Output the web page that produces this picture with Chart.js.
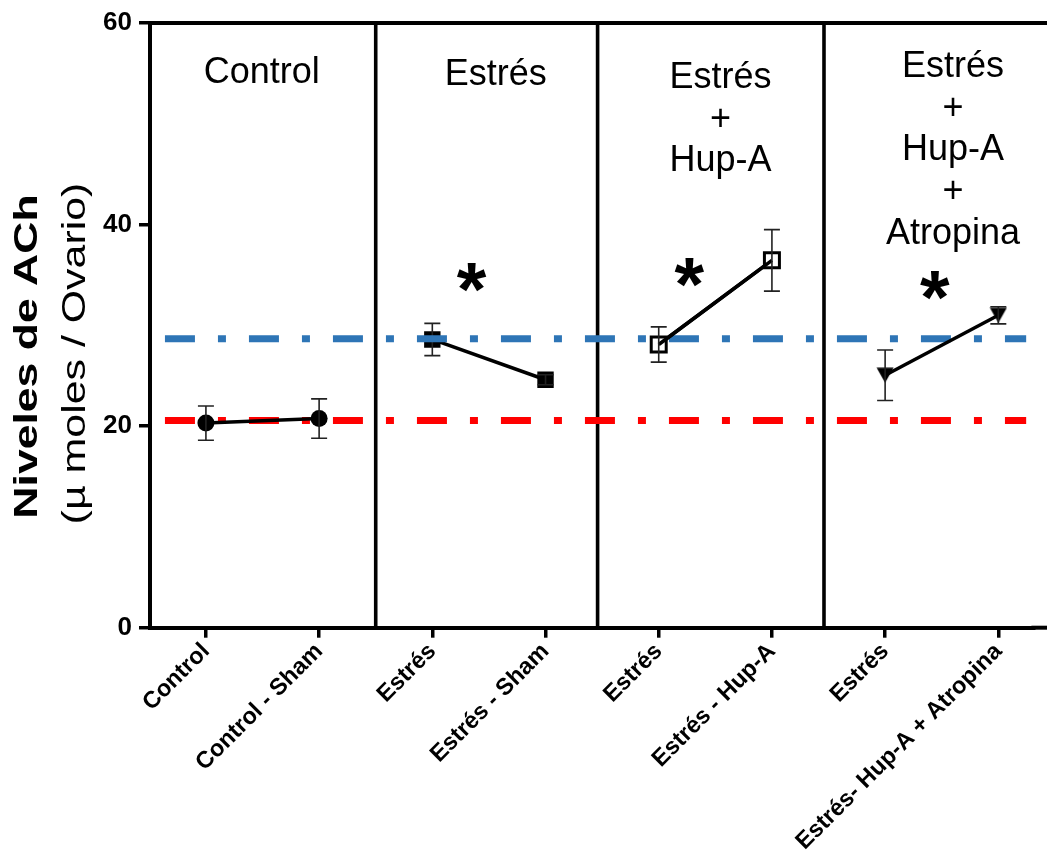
<!DOCTYPE html>
<html>
<head>
<meta charset="utf-8">
<script src="https://cdn.jsdelivr.net/npm/chart.js@4.4.1/dist/chart.umd.min.js"></script>
<style>
  html, body { margin: 0; padding: 0; background: #ffffff; }
  #wrap { width: 1047px; height: 852px; position: relative; }
  canvas { display: block; }
</style>
</head>
<body>
<div id="wrap"><canvas id="c" width="1047" height="852"></canvas></div>
<script>
// ---------------- DATA ----------------
const categories = ["Control", "Control - Sham", "Estrés", "Estrés - Sham",
                    "Estrés", "Estrés - Hup-A", "Estrés", "Estrés- Hup-A + Atropina"];
const means = [20.3, 20.75, 28.6, 24.6, 28.1, 36.45, 25.05, 31.0];
const sems  = [1.7, 1.95, 1.6, 0.5, 1.75, 3.05, 2.5, 0.85];
const pairs = [[0, 1], [2, 3], [4, 5], [6, 7]];
const panelTitles = [["Control"], ["Estrés"], ["Estrés", "+", "Hup-A"],
                     ["Estrés", "+", "Hup-A", "+", "Atropina"]];
const significance = ["", "*", "*", "*"];
const referenceLevels = [28.67, 20.56];   // Estrés level (blue), Control level (red)
const yTickValues = [0, 20, 40, 60];
const yTitle = "Niveles de ACh";
const ySubtitle = "(µ moles / Ovario)";

// ---------------- STYLE / LAYOUT ----------------
const FONT = "'Liberation Sans', Arial, Helvetica, sans-serif";
Chart.defaults.font.family = FONT;
Chart.defaults.color = '#000';

const layoutCfg = {
  xMin: -0.494,
  pxPerUnit: 113.2,
  dividers: [1.5, 3.46, 5.46],
  refSpan: [-0.362, 7.246],
  titleX: [0.494, 2.56, 4.545, 6.60],
  titleFirstBaseline: [54.08, 53.88, 53.58, 54.66],
  titleLineGapPx: 41.8,
  starPos: [null, [2.348, 34.72], [4.272, 35.21], [6.44, 34.0]]
};

function triangleDown(w, h) {
  const cv = document.createElement('canvas');
  cv.width = w; cv.height = h;
  const c = cv.getContext('2d');
  c.fillStyle = '#000';
  c.beginPath();
  c.moveTo(0.5, 0.5); c.lineTo(w - 0.5, 0.5); c.lineTo(w / 2, h - 0.5);
  c.closePath(); c.fill();
  return cv;
}

const markerStyles = [
  { pointStyle: 'circle', radius: 8.5, bg: '#000', bw: 0 },
  { pointStyle: 'rect', radius: 11.6, bg: '#000', bw: 0 },
  { pointStyle: 'rect', radius: 10.6, bg: '#fff', bw: 3 },
  { pointStyle: triangleDown(18, 16), radius: 9, bg: '#000', bw: 0 }
];
const panelOrder = [0, 20, 0, 0];

const datasets = [];
referenceLevels.forEach((lvl, k) => {
  datasets.push({
    type: 'line',
    data: layoutCfg.refSpan.map(x => ({ x: x, y: lvl })),
    borderColor: k === 0 ? '#2E75B6' : '#FF0000',
    borderWidth: 7,
    borderDash: [30, 23, 8, 23],
    borderCapStyle: 'butt',
    pointRadius: 0,
    order: 10
  });
});
pairs.forEach((p, g) => {
  const m = markerStyles[g];
  datasets.push({
    type: 'line',
    data: p.map(i => ({ x: i, y: means[i] })),
    errIdx: p,
    redrawLine: m.bg === '#fff',
    borderColor: '#000',
    borderWidth: 3.5,
    pointStyle: m.pointStyle,
    pointRadius: m.radius,
    pointBackgroundColor: m.bg,
    pointBorderColor: '#000',
    pointBorderWidth: m.bw,
    order: panelOrder[g]
  });
});

const decor = {
  id: 'decor',
  beforeDatasetsDraw(chart) {
    const ctx = chart.ctx, a = chart.chartArea, xs = chart.scales.x;
    ctx.save();
    ctx.strokeStyle = '#000';
    ctx.lineWidth = 3.6;
    layoutCfg.dividers.forEach(d => {
      const x = xs.getPixelForValue(d);
      ctx.beginPath(); ctx.moveTo(x, a.top); ctx.lineTo(x, a.bottom); ctx.stroke();
    });
    // frame: top line and continuation of the axis lines to the page edge
    ctx.lineWidth = 4;
    ctx.beginPath(); ctx.moveTo(a.left - 2, a.top); ctx.lineTo(chart.width, a.top); ctx.stroke();
    ctx.beginPath(); ctx.moveTo(a.right - 2, a.bottom); ctx.lineTo(chart.width, a.bottom); ctx.stroke();
    ctx.restore();
  },
  afterDatasetDraw(chart, args) {
    const ds = chart.data.datasets[args.index];
    if (!ds.errIdx) return;
    const ctx = chart.ctx, ys = chart.scales.y;
    const pts = args.meta.data;
    ctx.save();
    if (ds.redrawLine) {
      ctx.strokeStyle = '#000'; ctx.lineWidth = 3.5;
      ctx.beginPath(); ctx.moveTo(pts[0].x, pts[0].y); ctx.lineTo(pts[1].x, pts[1].y); ctx.stroke();
    }
    ctx.strokeStyle = '#222';
    ctx.lineWidth = 1.6;
    pts.forEach((pt, k) => {
      const i = ds.errIdx[k];
      const x = pt.x;
      const yt = ys.getPixelForValue(means[i] + sems[i]);
      const yb = ys.getPixelForValue(means[i] - sems[i]);
      ctx.beginPath();
      ctx.moveTo(x, yt); ctx.lineTo(x, yb);
      ctx.moveTo(x - 8, yt); ctx.lineTo(x + 8, yt);
      ctx.moveTo(x - 8, yb); ctx.lineTo(x + 8, yb);
      ctx.stroke();
    });
    ctx.restore();
  },
  afterDraw(chart) {
    const ctx = chart.ctx, xs = chart.scales.x, ys = chart.scales.y;
    ctx.save();
    ctx.fillStyle = '#000';
    // panel titles
    ctx.font = '36px ' + FONT;
    ctx.textAlign = 'center';
    ctx.textBaseline = 'alphabetic';
    panelTitles.forEach((lines, g) => {
      const x = xs.getPixelForValue(layoutCfg.titleX[g]);
      const y0 = ys.getPixelForValue(layoutCfg.titleFirstBaseline[g]);
      lines.forEach((t, j) => ctx.fillText(t, x, y0 + j * layoutCfg.titleLineGapPx));
    });
    // significance asterisks (ink centred)
    ctx.font = 'bold 76px ' + FONT;
    ctx.textAlign = 'left';
    significance.forEach((s, g) => {
      if (!s) return;
      const p = layoutCfg.starPos[g];
      const m = ctx.measureText(s);
      const cx = xs.getPixelForValue(p[0]);
      const cy = ys.getPixelForValue(p[1]);
      const inkW = m.actualBoundingBoxRight + m.actualBoundingBoxLeft;
      const inkH = m.actualBoundingBoxAscent + m.actualBoundingBoxDescent;
      ctx.fillText(s, cx - inkW / 2 + m.actualBoundingBoxLeft, cy - inkH / 2 + m.actualBoundingBoxAscent);
    });
    // y-axis titles (rotated, stretched along their length)
    ctx.textAlign = 'center';
    ctx.textBaseline = 'alphabetic';
    ctx.save();
    ctx.translate(36.5, 356.5);
    ctx.rotate(-Math.PI / 2);
    ctx.scale(1.31, 1);
    ctx.font = 'bold 34px ' + FONT;
    ctx.fillText(yTitle, 0, 0);
    ctx.restore();
    ctx.save();
    ctx.translate(84.5, 353.5);
    ctx.rotate(-Math.PI / 2);
    ctx.scale(1.30, 1);
    ctx.font = '33px ' + FONT;
    ctx.fillText(ySubtitle, 0, 0);
    ctx.restore();
    ctx.restore();
  }
};

const chart = new Chart(document.getElementById('c'), {
  type: 'line',
  data: { datasets: datasets },
  options: {
    responsive: false,
    devicePixelRatio: 1,
    animation: false,
    events: [],
    layout: { padding: { top: 23, right: 0, left: 0, bottom: 0 } },
    plugins: { legend: { display: false }, tooltip: { enabled: false }, title: { display: false } },
    scales: {
      x: {
        type: 'linear',
        min: layoutCfg.xMin, max: layoutCfg.xMin + 897 / layoutCfg.pxPerUnit,
        afterBuildTicks: s => { s.ticks = categories.map((c, i) => ({ value: i })); },
        afterFit: s => { s.height = 224.3; s.paddingRight = 0; s.paddingLeft = 0; },
        ticks: {
          callback: v => categories[v],
          font: { size: 23.5, weight: 'bold' },
          color: '#000',
          minRotation: 45, maxRotation: 45,
          autoSkip: false,
          padding: 0
        },
        grid: { drawOnChartArea: false, drawTicks: true, tickLength: 10, lineWidth: 3.5, color: '#000' },
        border: { display: true, width: 4, color: '#000' }
      },
      y: {
        min: 0, max: 60,
        afterBuildTicks: s => { s.ticks = yTickValues.map(v => ({ value: v })); },
        afterFit: s => { s.width = 150; s.paddingTop = 0; s.paddingBottom = 0; },
        ticks: { font: { size: 26, weight: 'bold' }, color: '#000', padding: 7 },
        grid: { drawOnChartArea: false, drawTicks: true, tickLength: 11, lineWidth: 3.5, color: '#000' },
        border: { display: true, width: 4, color: '#000' }
      }
    }
  },
  plugins: [decor]
});
// keep a fixed pixels-per-unit scale: the plot continues past the right page edge
const area = chart.chartArea;
chart.options.scales.x.max = layoutCfg.xMin + (area.right - area.left) / layoutCfg.pxPerUnit;
chart.update();
</script>
</body>
</html>
